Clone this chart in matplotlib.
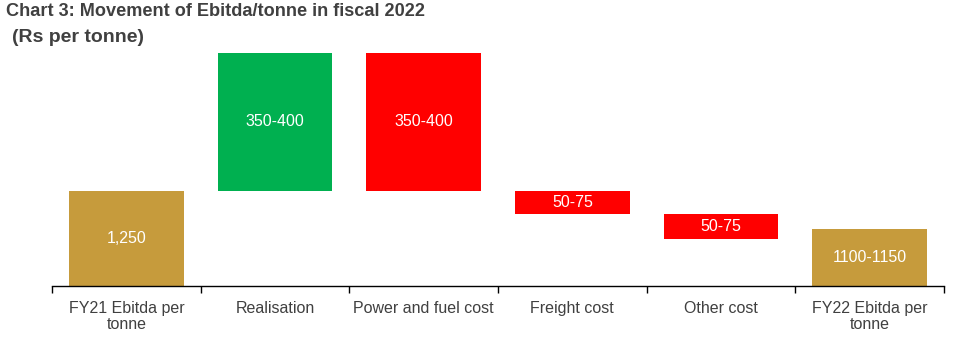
import numpy as np
import matplotlib
matplotlib.use("Agg")
import matplotlib.pyplot as plt

# data (Rs per tonne)
categories = ["FY21 Ebitda per\ntonne", "Realisation", "Power and fuel cost",
              "Freight cost", "Other cost", "FY22 Ebitda per\ntonne"]
start_value = 1250
changes = [375, -375, -64, -67]
end_value = 1145
bar_labels = ["1,250", "350-400", "350-400", "50-75", "50-75", "1100-1150"]

gold = "#C69B3C"
green = "#00B050"
red = "#FF0000"

plt.rcParams['font.family'] = ['Liberation Sans', 'DejaVu Sans']

# bottoms / heights of waterfall
base = 990.5
bottoms = [base]
heights = [start_value - base]
colors = [gold]
level = start_value
for c in changes:
    if c >= 0:
        bottoms.append(level)
        heights.append(c)
        colors.append(green)
    else:
        bottoms.append(level + c)
        heights.append(-c)
        colors.append(red)
    level += c
bottoms.append(base)
heights.append(end_value - base)
colors.append(gold)

fig = plt.figure(figsize=(9.54, 3.42), dpi=100)
ax = fig.add_axes([52 / 954, (342 - 286) / 342, 892 / 954, 233 / 342])

x = np.arange(len(categories))
ax.bar(x, heights, bottom=bottoms, width=0.77, color=colors, linewidth=0)

for xi, b, h, lab in zip(x, bottoms, heights, bar_labels):
    ax.text(xi, b + h / 2, lab, ha="center", va="center", color="white", fontsize=11.5)

ax.set_xlim(-0.5, len(categories) - 0.5)
ax.set_ylim(base, 1625)

for s in ["top", "right", "left"]:
    ax.spines[s].set_visible(False)
ax.spines["bottom"].set_linewidth(1)
ax.set_yticks([])

ax.set_xticks(x)
ax.set_xticklabels(categories, fontsize=11.5, color="#404040", linespacing=1.1)
ax.tick_params(axis="x", which="major", length=0, pad=10.5)
ax.set_xticks(np.arange(-0.5, len(categories)), minor=True)
ax.tick_params(axis="x", which="minor", length=5, width=1, direction="out")

fig.text(6 / 954, 1 - 3 / 342, "Chart 3: Movement of Ebitda/tonne in fiscal 2022",
         fontsize=13.1, fontweight="bold", color="#404040", ha="left", va="top")
fig.text(12 / 954, 1 - 29 / 342, "(Rs per tonne)",
         fontsize=14, fontweight="bold", color="#404040", ha="left", va="top")

fig.savefig("out.png", dpi=100)
